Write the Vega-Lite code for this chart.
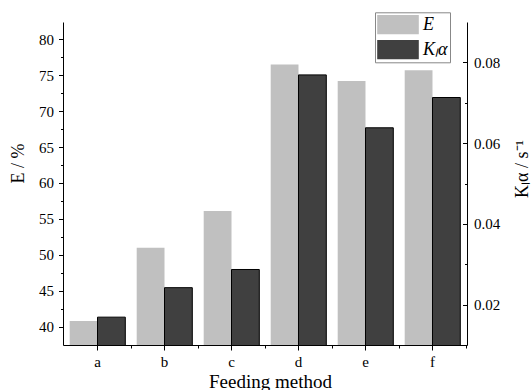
{
  "$schema": "https://vega.github.io/schema/vega-lite/v6.json",
  "width": 404,
  "height": 323,
  "autosize": "none",
  "padding": {"left": 63, "top": 22, "right": 65, "bottom": 45},
  "background": "white",
  "data": {
    "values": [
      {"method": "a", "series": "E", "value": 40.8},
      {"method": "b", "series": "E", "value": 51.0},
      {"method": "c", "series": "E", "value": 56.1},
      {"method": "d", "series": "E", "value": 76.5},
      {"method": "e", "series": "E", "value": 74.2},
      {"method": "f", "series": "E", "value": 75.7},
      {"method": "a", "series": "Kₗα", "value": 0.0169},
      {"method": "b", "series": "Kₗα", "value": 0.0242},
      {"method": "c", "series": "Kₗα", "value": 0.0287},
      {"method": "d", "series": "Kₗα", "value": 0.0769},
      {"method": "e", "series": "Kₗα", "value": 0.0638},
      {"method": "f", "series": "Kₗα", "value": 0.0713}
    ]
  },
  "config": {
    "view": {"stroke": null},
    "font": "Liberation Serif",
    "axis": {
      "labelFont": "Liberation Serif",
      "titleFont": "Liberation Serif",
      "labelFontSize": 15,
      "titleFontSize": 18,
      "titleFontWeight": "normal",
      "labelColor": "black",
      "titleColor": "black",
      "domainColor": "black",
      "tickColor": "black",
      "domainWidth": 1,
      "tickWidth": 1,
      "grid": false
    },
    "legend": {
      "labelFont": "Liberation Serif",
      "labelFontSize": 18,
      "labelFontStyle": "italic",
      "labelColor": "black"
    }
  },
  "layer": [
    {
      "layer": [
        {
          "transform": [{"filter": "datum.series === 'E'"}],
          "mark": {"type": "bar", "clip": true},
          "encoding": {
            "x": {
              "field": "method",
              "type": "nominal",
              "scale": {"paddingInner": 0.17, "paddingOuter": 0.1},
              "axis": {
                "orient": "bottom",
                "title": "Feeding method",
                "labelAngle": 0,
                "labelFont": "Liberation Serif",
                "titleFont": "Liberation Serif",
                "labelFontSize": 15,
                "tickSize": 5,
                "labelPadding": 4,
                "titleY": 42,
                "titleX": 207,
                "titleBaseline": "alphabetic",
                "titleFontSize": 19
              }
            },
            "xOffset": {
              "field": "series",
              "type": "nominal",
              "scale": {"domain": ["E", "Kₗα"], "paddingInner": 0, "paddingOuter": 0}
            },
            "y": {
              "field": "value",
              "type": "quantitative",
              "scale": {"domain": [37.45, 82.4], "zero": false, "nice": false},
              "axis": {
                "orient": "left",
                "values": [40, 45, 50, 55, 60, 65, 70, 75, 80],
                "labelFont": "Liberation Serif",
                "titleFont": "Liberation Serif",
                "labelFontSize": 15,
                "tickSize": 4.5,
                "labelPadding": 5,
                "title": "E / %",
                "titleFontSize": 18,
                "titleAngle": -90,
                "titleX": -44.7,
                "titleY": 141,
                "titleBaseline": "middle",
                "titleAlign": "center"
              }
            },
            "color": {
              "field": "series",
              "type": "nominal",
              "scale": {"domain": ["E", "Kₗα"], "range": ["#c0c0c0", "#404040"]},
              "legend": {
                "title": null,
                "orient": "none",
                "legendX": 312,
                "legendY": -9.7,
                "symbolType": "M-1,-0.46H1V0.46H-1Z",
                "symbolSize": 1731,
                "symbolStrokeWidth": 0,
                "symbolOpacity": 1,
                "clipHeight": 20.7,
                "rowPadding": 4,
                "padding": 2,
                "labelOffset": 4,
                "labelFont": "Liberation Serif",
                "strokeColor": "#888888",
                "fillColor": "white"
              }
            }
          }
        },
        {
          "transform": [{"filter": "datum.series === 'E'"}],
          "mark": {"type": "bar", "opacity": 0},
          "encoding": {
            "x": {
              "field": "method",
              "type": "nominal",
              "axis": {
                "orient": "bottom",
                "title": null,
                "labels": false,
                "domain": false,
                "tickSize": 3,
                "tickOffset": 33.5
              }
            },
            "y": {
              "field": "value",
              "type": "quantitative",
              "axis": {
                "orient": "left",
                "values": [42.5, 47.5, 52.5, 57.5, 62.5, 67.5, 72.5, 77.5],
                "labels": false,
                "domain": false,
                "tickSize": 2.5,
                "title": null
              }
            }
          }
        }
      ],
      "resolve": {"axis": {"x": "independent", "y": "independent"}}
    },
    {
      "layer": [
        {
          "transform": [{"filter": "datum.series !== 'E'"}],
          "mark": {"type": "bar", "clip": true, "stroke": "black", "strokeWidth": 1},
          "encoding": {
            "x": {"field": "method", "type": "nominal", "axis": null},
            "xOffset": {
              "field": "series",
              "type": "nominal",
              "scale": {"domain": ["E", "Kₗα"], "paddingInner": 0, "paddingOuter": 0}
            },
            "y": {
              "field": "value",
              "type": "quantitative",
              "scale": {"domain": [0.01, 0.09], "zero": false, "nice": false},
              "axis": {
                "orient": "right",
                "values": [0.02, 0.04, 0.06, 0.08],
                "format": ".2f",
                "labelFont": "Liberation Serif",
                "titleFont": "Liberation Serif",
                "labelFontSize": 15,
                "tickSize": -4.5,
                "labelPadding": 11,
                "title": "Kₗα / s⁻¹",
                "titleFontSize": 18,
                "titleAngle": -90,
                "titleX": 55,
                "titleY": 146.5,
                "titleBaseline": "middle",
                "titleAlign": "center"
              }
            },
            "color": {
              "field": "series",
              "type": "nominal",
              "scale": {"domain": ["E", "Kₗα"], "range": ["#c0c0c0", "#404040"]}
            }
          }
        },
        {
          "transform": [{"filter": "datum.series !== 'E'"}],
          "mark": {"type": "bar", "opacity": 0},
          "encoding": {
            "x": {"field": "method", "type": "nominal", "axis": null},
            "y": {
              "field": "value",
              "type": "quantitative",
              "axis": {
                "orient": "right",
                "values": [0.03, 0.05, 0.07],
                "labels": false,
                "domain": false,
                "tickSize": -2.5,
                "title": null
              }
            }
          }
        }
      ],
      "resolve": {"axis": {"y": "independent"}}
    }
  ],
  "resolve": {
    "scale": {"y": "independent"},
    "axis": {"y": "independent", "x": "independent"}
  }
}
